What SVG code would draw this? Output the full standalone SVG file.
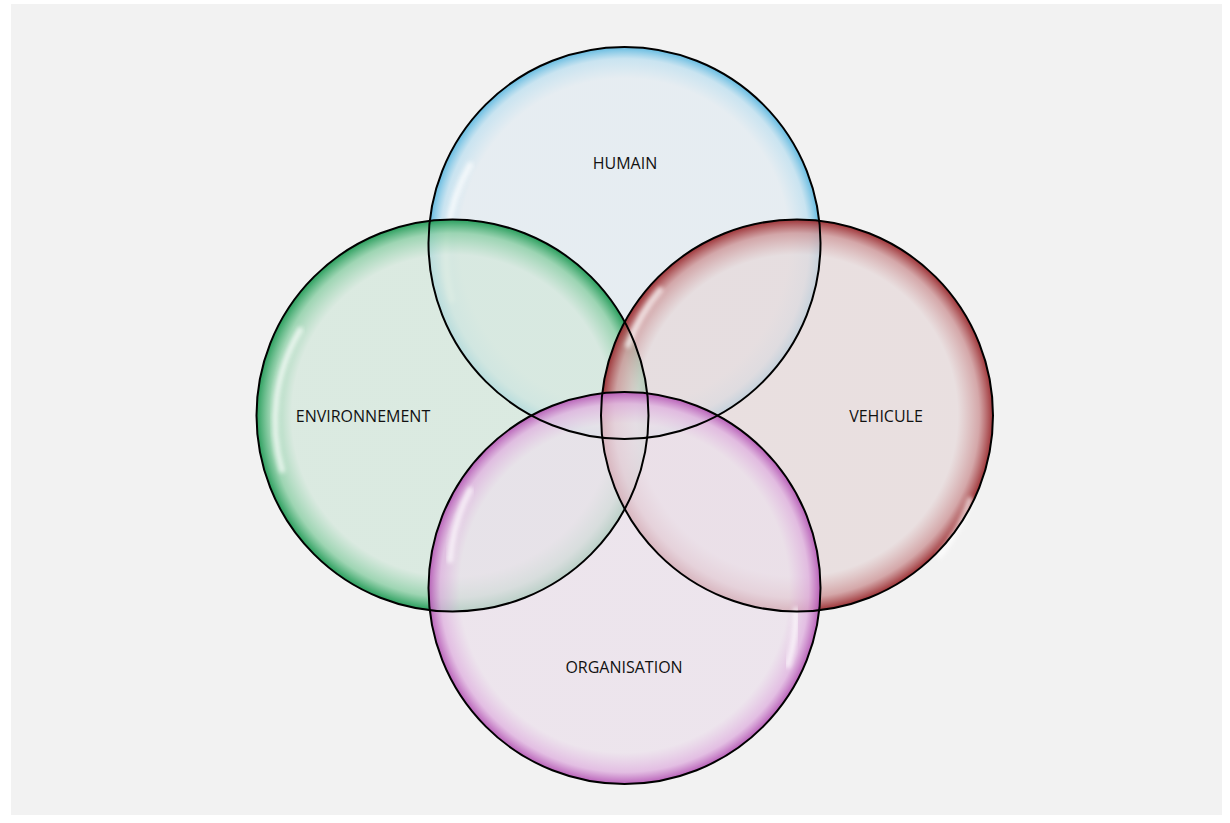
<svg xmlns="http://www.w3.org/2000/svg" width="1230" height="823" viewBox="0 0 1230 823">
<style>
.lbl{font-family:"Open Sans","Liberation Sans",sans-serif;font-size:16px;fill:#111;text-anchor:middle}
.rim{fill:none;stroke:#000;stroke-width:2}
.hl{fill:none;stroke:#fff;stroke-width:6;stroke-linecap:round;opacity:0.7;filter:url(#blur)}
</style>
<defs>
<filter id="blur" x="-20%" y="-20%" width="140%" height="140%"><feGaussianBlur stdDeviation="2.2"/></filter>
<radialGradient id="gH" cx="0.5" cy="0.5" r="0.5">
<stop offset="0" stop-color="#e2ebf1" stop-opacity="0.75"/>
<stop offset="0.84" stop-color="#e2ebf1" stop-opacity="0.75"/>
<stop offset="0.94" stop-color="#bfe0f0" stop-opacity="0.8"/>
<stop offset="1" stop-color="#5cb8e0" stop-opacity="0.95"/>
</radialGradient>
<radialGradient id="gE" cx="0.5" cy="0.5" r="0.5">
<stop offset="0" stop-color="#d3e7db" stop-opacity="0.75"/>
<stop offset="0.82" stop-color="#d3e7db" stop-opacity="0.75"/>
<stop offset="0.93" stop-color="#8fd0a8" stop-opacity="0.85"/>
<stop offset="1" stop-color="#1f9a55" stop-opacity="0.95"/>
</radialGradient>
<radialGradient id="gV" cx="0.5" cy="0.5" r="0.5">
<stop offset="0" stop-color="#e6d9da" stop-opacity="0.75"/>
<stop offset="0.82" stop-color="#e6d9da" stop-opacity="0.75"/>
<stop offset="0.93" stop-color="#cf9a9c" stop-opacity="0.85"/>
<stop offset="1" stop-color="#9a2a2e" stop-opacity="0.95"/>
</radialGradient>
<radialGradient id="gO" cx="0.5" cy="0.5" r="0.5">
<stop offset="0" stop-color="#ebe0eb" stop-opacity="0.75"/>
<stop offset="0.84" stop-color="#ebe0eb" stop-opacity="0.75"/>
<stop offset="0.94" stop-color="#e0b5e0" stop-opacity="0.85"/>
<stop offset="1" stop-color="#b65ab6" stop-opacity="0.95"/>
</radialGradient>
</defs>
<rect x="0" y="0" width="1230" height="823" fill="#ffffff"/>
<rect x="11" y="4" width="1211" height="811" fill="#f2f2f2"/>
<g id="humain">
<circle cx="624.5" cy="243" r="196" fill="url(#gH)"/>
<path class="hl" d="M 452 300 A 178 178 0 0 1 470 165"/>
</g>
<g id="environnement">
<circle cx="452.5" cy="415.5" r="196" fill="url(#gE)"/>
<path class="hl" d="M 282 470 A 178 178 0 0 1 300 330"/>
</g>
<g id="vehicule">
<circle cx="797" cy="415.5" r="196" fill="url(#gV)"/>
<path class="hl" d="M 970 500 A 178 178 0 0 1 940 555"/>
<path class="hl" d="M 628 345 A 178 178 0 0 1 660 290"/>
</g>
<g id="organisation">
<circle cx="624.5" cy="588" r="196" fill="url(#gO)"/>
<path class="hl" d="M 450 560 A 178 178 0 0 1 470 490"/>
<path class="hl" d="M 796 610 A 178 178 0 0 1 788 665"/>
</g>
<g id="outlines">
<circle class="rim" cx="624.5" cy="243" r="196"/>
<circle class="rim" cx="452.5" cy="415.5" r="196"/>
<circle class="rim" cx="797" cy="415.5" r="196"/>
<circle class="rim" cx="624.5" cy="588" r="196"/>
</g>
<g id="labels">
<text class="lbl" x="625" y="169">HUMAIN</text>
<text class="lbl" x="363" y="422">ENVIRONNEMENT</text>
<text class="lbl" x="886" y="422">VEHICULE</text>
<text class="lbl" x="624" y="673">ORGANISATION</text>
</g>
</svg>
